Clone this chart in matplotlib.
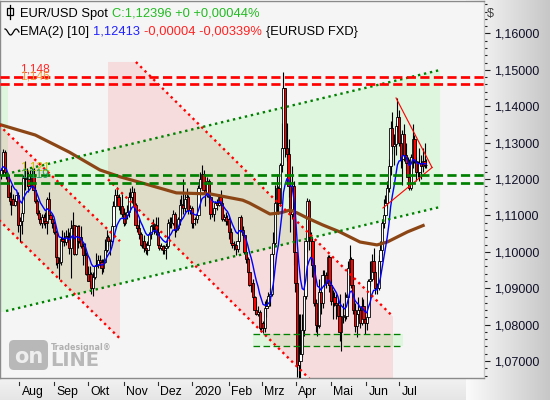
import numpy as np
import pandas as pd
import matplotlib
matplotlib.use("Agg")
import matplotlib.pyplot as plt
from matplotlib.patches import Polygon, Rectangle, FancyBboxPatch
from matplotlib.ticker import MultipleLocator, FuncFormatter

plt.rcParams['font.family'] = ['Liberation Sans', 'DejaVu Sans']

# ---------------- data (daily EUR/USD, 17 Jul 2019 .. 3 Jul 2020) ----------------
opens = [
    1.1210,1.1225,1.1275,1.1220,1.1210,1.1150,1.1140,1.1145,1.1130,1.1140,1.1155,
    1.1075,1.1085,1.1108,1.1203,1.1200,1.1200,1.1180,1.1200,1.1215,1.1170,1.1140,1.1108,1.1090,1.1078,1.1095,1.1085,1.1080,1.1145,1.1100,1.1090,1.1078,1.1055,
    1.0985,1.0968,1.0973,1.1035,1.1030,1.1027,1.1044,1.1042,1.1010,1.1065,1.1073,1.0995,1.1070,1.1030,1.1040,1.1017,1.0990,1.0990,1.0940,1.0920,1.0940,
    1.0900,1.0932,1.0960,1.0965,1.0978,1.0971,1.0955,1.0972,1.1005,1.1040,1.1030,1.1030,1.1070,1.1125,1.1155,1.1150,1.1125,1.1127,1.1105,1.1080,1.1100,1.1110,1.1150,
    1.1150,1.1165,1.1130,1.1075,1.1065,1.1050,1.1020,1.1030,1.1010,1.1005,1.1020,1.1050,1.1070,1.1075,1.1075,1.1055,1.1020,1.1010,1.1015,1.1005,1.1010,
    1.1015,1.1080,1.1080,1.1080,1.1103,1.1060,1.1065,1.1090,1.1130,1.1130,1.1120,1.1145,1.1150,1.1115,1.1120,1.1080,1.1090,1.1090,1.1100,1.1175,1.1200,
    1.1215,1.1170,1.1160,1.1195,1.1150,1.1105,1.1105,1.1120,1.1135,1.1130,1.1150,1.1135,1.1090,1.1095,1.1085,1.1090,1.1055,1.1025,1.1020,1.1020,1.1008,1.1030,
    1.1095,1.1060,1.1045,1.1000,1.0980,1.0945,1.0910,1.0915,1.0875,1.0840,1.0830,1.0835,1.0790,1.0805,1.0790,1.0845,1.0850,1.0880,1.0885,1.0995,
    1.1025,1.1135,1.1175,1.1135,1.1240,1.1285,1.1450,1.1285,1.1270,1.1180,1.1105,1.1180,1.1000,1.0915,1.0690,1.0700,1.0720,1.0785,1.0880,1.1030,1.1140,1.1040,
    1.1030,1.0965,1.0860,1.0800,1.0795,1.0890,1.0860,1.0935,1.0935,1.0915,1.0985,1.0910,1.0865,1.0875,1.0860,1.0855,1.0825,1.0780,1.0820,1.0825,1.0825,1.0875,
    1.0955,1.0980,1.0910,1.0840,1.0795,1.0830,1.0840,1.0805,1.0850,1.0815,1.0805,1.0820,1.0920,1.0925,1.0975,1.0945,1.0900,1.0900,1.0975,1.1005,1.1080,
    1.1100,1.1135,1.1175,1.1235,1.1340,1.1290,1.1295,1.1345,1.1370,1.1300,1.1255,1.1325,1.1265,1.1245,1.1205,1.1175,1.1260,1.1310,1.1250,1.1220,1.1220,1.1245,
    1.1235,1.1250,1.1238]
highs = [
    1.1230,1.1282,1.1280,1.1230,1.1215,1.1165,1.1185,1.1160,1.1150,1.1165,1.1165,
    1.1095,1.1115,1.1210,1.1250,1.1230,1.1225,1.1225,1.1230,1.1230,1.1190,1.1145,1.1115,1.1100,1.1105,1.1105,1.1110,1.1150,1.1165,1.1105,1.1095,1.1085,1.1060,
    1.0995,1.0985,1.1040,1.1060,1.1055,1.1060,1.1065,1.1055,1.1087,1.1109,1.1075,1.1075,1.1075,1.1075,1.1070,1.1025,1.1025,1.1000,1.0960,1.0960,1.0945,
    1.0945,1.0965,1.0998,1.0990,1.0990,1.0980,1.0980,1.1035,1.1060,1.1045,1.1035,1.1080,1.1140,1.1172,1.1179,1.1160,1.1145,1.1160,1.1120,1.1110,1.1130,1.1165,1.1175,
    1.1180,1.1175,1.1135,1.1090,1.1090,1.1055,1.1040,1.1045,1.1025,1.1030,1.1055,1.1075,1.1090,1.1080,1.1095,1.1095,1.1035,1.1025,1.1020,1.1020,1.1025,
    1.1090,1.1095,1.1095,1.1115,1.1110,1.1080,1.1095,1.1145,1.1155,1.1199,1.1160,1.1175,1.1155,1.1130,1.1125,1.1095,1.1095,1.1100,1.1185,1.1220,1.1239,
    1.1225,1.1175,1.1205,1.1200,1.1170,1.1115,1.1125,1.1140,1.1145,1.1160,1.1170,1.1145,1.1105,1.1110,1.1100,1.1095,1.1065,1.1035,1.1030,1.1030,1.1040,1.1095,
    1.1100,1.1070,1.1050,1.1005,1.0985,1.0955,1.0925,1.0925,1.0880,1.0865,1.0850,1.0840,1.0815,1.0810,1.0865,1.0870,1.0890,1.0900,1.1000,1.1055,
    1.1185,1.1215,1.1180,1.1245,1.1355,1.1495,1.1450,1.1355,1.1310,1.1200,1.1235,1.1195,1.1030,1.0955,1.0830,1.0830,1.0830,1.0890,1.1040,1.1147,1.1145,1.1055,
    1.1040,1.0970,1.0870,1.0835,1.0925,1.0900,1.0950,1.0950,1.0945,1.0990,1.0990,1.0925,1.0895,1.0890,1.0885,1.0870,1.0885,1.0825,1.0860,1.0890,1.0885,1.0975,
    1.1020,1.0985,1.0925,1.0860,1.0835,1.0875,1.0850,1.0875,1.0870,1.0830,1.0835,1.0925,1.0975,1.0995,1.1010,1.0960,1.0915,1.0990,1.1030,1.1090,1.1145,
    1.1155,1.1195,1.1255,1.1360,1.1385,1.1325,1.1355,1.1422,1.1390,1.1320,1.1335,1.1350,1.1300,1.1260,1.1255,1.1270,1.1350,1.1320,1.1260,1.1250,1.1285,1.1265,
    1.1285,1.1300,1.1255]
lows = [
    1.1200,1.1210,1.1215,1.1200,1.1150,1.1130,1.1100,1.1130,1.1125,1.1135,1.1055,
    1.1027,1.1050,1.1095,1.1170,1.1180,1.1165,1.1180,1.1190,1.1160,1.1135,1.1100,1.1085,1.1075,1.1065,1.1075,1.1065,1.1050,1.1090,1.1080,1.1065,1.1050,1.0965,
    1.0955,1.0926,1.0965,1.1015,1.1015,1.1020,1.1030,1.0995,1.0927,1.1055,1.0990,1.0990,1.1010,1.1025,1.1010,1.0965,1.0980,1.0935,1.0920,1.0905,1.0885,
    1.0879,1.0925,1.0940,1.0955,1.0960,1.0940,1.0945,1.0970,1.1000,1.1015,1.0990,1.1020,1.1060,1.1120,1.1140,1.1115,1.1105,1.1095,1.1070,1.1075,1.1090,1.1095,1.1130,
    1.1135,1.1120,1.1065,1.1055,1.1035,1.1015,1.1010,1.1000,1.0995,1.0990,1.1015,1.1035,1.1060,1.1050,1.1045,1.1015,1.1005,1.1005,1.0995,1.0995,1.0981,
    1.1010,1.1065,1.1065,1.1075,1.1040,1.1055,1.1060,1.1075,1.1105,1.1105,1.1110,1.1135,1.1105,1.1105,1.1065,1.1065,1.1075,1.1080,1.1095,1.1170,1.1195,
    1.1160,1.1125,1.1150,1.1135,1.1090,1.1095,1.1085,1.1110,1.1115,1.1125,1.1130,1.1085,1.1085,1.1075,1.1075,1.1035,1.1020,1.1010,1.1005,1.0992,1.1000,1.1025,
    1.1055,1.1040,1.0995,1.0970,1.0940,1.0905,1.0890,1.0870,1.0830,1.0827,1.0825,1.0785,1.0780,1.0778,1.0780,1.0820,1.0845,1.0850,1.0880,1.0955,
    1.1020,1.1110,1.1105,1.1125,1.1220,1.1285,1.1260,1.1250,1.1150,1.1055,1.1090,1.0965,1.0890,1.0655,1.0640,1.0636,1.0710,1.0770,1.0870,1.1000,1.1005,1.0965,
    1.0930,1.0850,1.0780,1.0770,1.0790,1.0830,1.0845,1.0915,1.0900,1.0910,1.0890,1.0855,1.0815,1.0850,1.0815,1.0820,1.0755,1.0727,1.0805,1.0810,1.0815,1.0860,
    1.0935,1.0900,1.0830,1.0780,1.0766,1.0815,1.0790,1.0800,1.0805,1.0775,1.0785,1.0815,1.0905,1.0920,1.0945,1.0885,1.0885,1.0895,1.0940,1.0990,1.1065,
    1.1090,1.1120,1.1165,1.1210,1.1270,1.1240,1.1265,1.1330,1.1290,1.1230,1.1185,1.1250,1.1225,1.1195,1.1170,1.1170,1.1230,1.1245,1.1195,1.1205,1.1195,1.1200,
    1.1220,1.1230,1.1230]
closes = [
    1.1225,1.1275,1.1220,1.1210,1.1150,1.1140,1.1145,1.1130,1.1140,1.1155,1.1075,
    1.1085,1.1108,1.1203,1.1200,1.1200,1.1180,1.1200,1.1215,1.1170,1.1140,1.1108,1.1090,1.1078,1.1095,1.1085,1.1080,1.1145,1.1100,1.1090,1.1078,1.1055,1.0985,
    1.0968,1.0973,1.1035,1.1030,1.1027,1.1044,1.1042,1.1010,1.1065,1.1073,1.0995,1.1070,1.1030,1.1040,1.1017,1.0990,1.0990,1.0940,1.0920,1.0940,1.0900,
    1.0932,1.0960,1.0965,1.0978,1.0971,1.0955,1.0972,1.1005,1.1040,1.1030,1.1030,1.1070,1.1125,1.1155,1.1150,1.1125,1.1127,1.1105,1.1080,1.1100,1.1110,1.1150,1.1150,
    1.1165,1.1130,1.1075,1.1065,1.1050,1.1020,1.1030,1.1010,1.1005,1.1020,1.1050,1.1070,1.1075,1.1075,1.1055,1.1020,1.1010,1.1015,1.1005,1.1010,1.1015,
    1.1080,1.1080,1.1080,1.1103,1.1060,1.1065,1.1090,1.1130,1.1130,1.1120,1.1145,1.1150,1.1115,1.1120,1.1080,1.1090,1.1090,1.1100,1.1175,1.1200,1.1215,
    1.1170,1.1160,1.1195,1.1150,1.1105,1.1105,1.1120,1.1135,1.1130,1.1150,1.1135,1.1090,1.1095,1.1085,1.1090,1.1055,1.1025,1.1020,1.1020,1.1008,1.1030,1.1095,
    1.1060,1.1045,1.1000,1.0980,1.0945,1.0910,1.0915,1.0875,1.0840,1.0830,1.0835,1.0790,1.0805,1.0790,1.0845,1.0850,1.0880,1.0885,1.0995,1.1025,
    1.1135,1.1175,1.1135,1.1240,1.1285,1.1450,1.1285,1.1270,1.1180,1.1105,1.1180,1.1000,1.0915,1.0690,1.0700,1.0720,1.0785,1.0880,1.1030,1.1140,1.1040,1.1030,
    1.0965,1.0860,1.0800,1.0795,1.0890,1.0860,1.0935,1.0935,1.0915,1.0985,1.0910,1.0865,1.0875,1.0860,1.0855,1.0825,1.0780,1.0820,1.0825,1.0825,1.0875,1.0955,
    1.0980,1.0910,1.0840,1.0795,1.0830,1.0840,1.0805,1.0850,1.0815,1.0805,1.0820,1.0920,1.0925,1.0975,1.0945,1.0900,1.0900,1.0975,1.1005,1.1080,1.1100,
    1.1135,1.1175,1.1235,1.1340,1.1290,1.1295,1.1345,1.1370,1.1300,1.1255,1.1325,1.1265,1.1245,1.1205,1.1175,1.1260,1.1310,1.1250,1.1220,1.1220,1.1245,1.1235,
    1.1250,1.1238,1.12396]

# long moving average (brown) at bar positions
brown_idx = [-1, 20, 40, 58, 70, 83, 103, 123, 142, 146, 158, 164, 170, 174, 180, 189, 199, 211, 221, 227, 239, 249]
brown_val = [1.1350, 1.1321, 1.1274, 1.1225, 1.1206, 1.1189, 1.1162, 1.1159, 1.1142, 1.1134, 1.1104,
             1.1107, 1.1115, 1.1107, 1.1093, 1.1074, 1.1055, 1.1027, 1.1019, 1.1027, 1.1055, 1.1074]

month_labels = ['Aug', 'Sep', 'Okt', 'Nov', 'Dez', '2020', 'Feb', 'Mrz', 'Apr', 'Mai', 'Jun', 'Jul']
month_pos = [10.6, 31.0, 51.0, 72.2, 92.2, 112.2, 134.0, 153.4, 173.4, 193.9, 214.5, 234.0]

red_levels = [1.148, 1.146]
red_level_labels = ['1,148', '1,146']
red_label_colors = ['#ff2a2a', '#f0a040']
green_levels = [1.121, 1.119]
green_level_labels = ['1,121', '1,119']
green_label_colors = ['#c8c000', '#20a060']

# drawn channels (bar index, price)
green_ch_x = [2.8, 258.1]
green_ch_up = [1.12139, 1.14997]
green_ch_lo = [1.08374, 1.11232]
left_ch_x = [-2.0, 69.8]
left_ch_up = [1.13513, 1.10293]
left_ch_lo = [1.10903, 1.07616]
big_ch_x = [62.8, 79.2, 230.4]          # left edge, start of upper line, right edge
big_ch_up = [1.15217, 1.15217, 1.08220]
big_ch_lo = [1.11991, 1.04236]
strip_x = [-2.0, 3.9]
strip_v = [1.0835, 1.14557]
box_x = [148.1, 236.3]
box_v = [1.07412, 1.07742]
pennant_top_x = [232.2, 253.4]
pennant_top_v = [1.14228, 1.12317]
pennant_bot_x = [224.5, 253.4]
pennant_bot_v = [1.11205, 1.12317]

# ---------------- figure ----------------
W, H = 550, 400
fig = plt.figure(figsize=(5.5, 4.0), dpi=100)
fig.patch.set_facecolor('white')

bg = fig.add_axes([0, 0, 1, 1], zorder=-5)
bg.set_xlim(0, W); bg.set_ylim(H, 0); bg.axis('off')
g = np.linspace(0, 1, 200)[None, :, None]
right_grad = (1 - g) * np.array([0.985, 0.985, 0.985]) + g * np.array([0.78, 0.78, 0.78])
bg.imshow(right_grad, extent=(466, 550, 400, 0), aspect='auto', interpolation='bilinear')
gv = np.linspace(0, 1, 50)[:, None, None] * np.ones((1, 2, 1))
band = (1 - gv) * np.array([0.95, 0.95, 0.95]) + gv * np.array([0.90, 0.90, 0.90])
bg.imshow(band, extent=(0, 466, 400, 378), aspect='auto', interpolation='bilinear')

ax = fig.add_axes([0, 22 / H, 484 / W, 377 / H], zorder=1)
ax.set_facecolor('#f5f5f5')
n = len(closes)
ax.set_xlim(-0.76, (484 - 1.3) / 1.7)
ax.set_ylim(1.06533, 1.16893)

PINK = '#f6dcdc'
GREEN = '#def5de'
BEIGE = '#dfdcc8'

def para(xs, up, lo):
    return np.array([[xs[0], up[0]], [xs[1], up[1]], [xs[1], lo[1]], [xs[0], lo[0]]])

big_poly = np.array([[big_ch_x[0], big_ch_up[0]], [big_ch_x[1], big_ch_up[1]], [big_ch_x[2], big_ch_up[2]],
                     [big_ch_x[2], big_ch_lo[1]], [big_ch_x[0], big_ch_lo[0]]])
pink_polys = [para(left_ch_x, left_ch_up, left_ch_lo), big_poly]
green_polys = [para(green_ch_x, green_ch_up, green_ch_lo),
               np.array([[strip_x[0], strip_v[1]], [strip_x[1], strip_v[1]], [strip_x[1], strip_v[0]], [strip_x[0], strip_v[0]]]),
               np.array([[box_x[0], box_v[1]], [box_x[1], box_v[1]], [box_x[1], box_v[0]], [box_x[0], box_v[0]]])]

pink_patches = []
for pv in pink_polys:
    p = Polygon(pv, closed=True, facecolor=PINK, edgecolor='none', zorder=1)
    ax.add_patch(p)
    pink_patches.append(p)
for gvv in green_polys:
    ax.add_patch(Polygon(gvv, closed=True, facecolor=GREEN, edgecolor='none', zorder=1.1))
for gvv in green_polys:
    for pp in pink_patches:
        q = Polygon(gvv, closed=True, facecolor=BEIGE, edgecolor='none', zorder=1.2)
        ax.add_patch(q)
        q.set_clip_path(pp)

# candles
idx = np.arange(n)
o = np.array(opens); h = np.array(highs); l = np.array(lows); c = np.array(closes)
up = c >= o
ax.vlines(idx, l, h, color='#000000', lw=0.8, zorder=3)
bb = np.minimum(o, c)
bh = np.maximum(np.abs(c - o), 0.00012)
ax.bar(idx[up], bh[up], bottom=bb[up], width=1.3, color='white', edgecolor='#000000', linewidth=0.6, zorder=4)
ax.bar(idx[~up], bh[~up], bottom=bb[~up], width=1.3, color='#ff0000', edgecolor='#000000', linewidth=0.6, zorder=4)

# indicators
ema = pd.Series(closes).ewm(span=10, adjust=False).mean()
ax.plot(brown_idx, brown_val, color='#8c4616', lw=2.3, zorder=5, solid_capstyle='butt')
ax.plot(idx, ema, color='#0000ff', lw=1.0, zorder=6)

# channel lines
dot = (0, (1, 1.6))
ax.plot(left_ch_x, left_ch_up, color='#ff0000', lw=1.7, ls=dot, zorder=7)
ax.plot(left_ch_x, left_ch_lo, color='#ff0000', lw=1.7, ls=dot, zorder=7)
ax.plot(big_ch_x[1:], big_ch_up[1:], color='#ff0000', lw=1.7, ls=dot, zorder=7)
ax.plot([big_ch_x[0], big_ch_x[2]], big_ch_lo, color='#ff0000', lw=1.7, ls=dot, zorder=7)
ax.plot(green_ch_x, green_ch_up, color='#008000', lw=1.7, ls=dot, zorder=7)
ax.plot(green_ch_x, green_ch_lo, color='#008000', lw=1.7, ls=dot, zorder=7)

# pennant
ax.plot(pennant_top_x, pennant_top_v, color='#ff0000', lw=0.8, zorder=7)
ax.plot(pennant_bot_x, pennant_bot_v, color='#ff0000', lw=0.8, zorder=7)

# support box lines
for v in box_v:
    ax.plot(box_x, [v, v], color='#008000', lw=0.95, ls=(0, (5, 2.6)), zorder=7)

# horizontal levels
for v in red_levels:
    ax.axhline(v, color='#ff0000', lw=1.95, ls=(0, (3.4, 1.6)), zorder=8)
for v in green_levels:
    ax.axhline(v, color='#008000', lw=1.95, ls=(0, (3.4, 1.6)), zorder=8)
ytr = ax.get_yaxis_transform()
for v, t, col in list(zip(red_levels, red_level_labels, red_label_colors)) + list(zip(green_levels, green_level_labels, green_label_colors)):
    ax.annotate(t, xy=(20 / 484, v), xycoords=ytr, xytext=(0, 3.4), textcoords='offset points',
                va='baseline', ha='left', fontsize=8.6, color=col, zorder=9)

# axes styling
for s in ax.spines.values():
    s.set_color('#8a8a8a'); s.set_linewidth(1.0)
ax.spines['right'].set_color('#c8c8c8')
ax.set_xticks([])
ax.yaxis.tick_right()
ax.yaxis.set_major_locator(MultipleLocator(0.01))
ax.yaxis.set_minor_locator(MultipleLocator(0.002))
ax.yaxis.set_major_formatter(FuncFormatter(lambda v, p: f"{v:.5f}".replace('.', ',')))
ax.tick_params(axis='y', which='major', length=4, width=0.8, color='#202020', pad=3,
               labelsize=9, labelcolor='#101028', direction='out')
ax.tick_params(axis='y', which='minor', length=2, width=0.8, color='#202020', direction='out')

xtr = ax.get_xaxis_transform()
for p, lab in zip(month_pos, month_labels):
    ax.plot([p, p], [-4 / 377, -7 / 377], transform=xtr, color='#303030', lw=0.8, clip_on=False)
    ax.text(p + 1.4, -14 / 377, lab, transform=xtr, ha='left', va='center', fontsize=8.8, color='#000000')

# ---------------- overlay (legend, watermark) in pixel coords ----------------
ov = fig.add_axes([0, 0, 1, 1], zorder=10)
ov.set_xlim(0, W); ov.set_ylim(H, 0); ov.axis('off'); ov.patch.set_alpha(0)

def chain(parts, x, y):
    prev = None
    for txt, col in parts:
        if prev is None:
            prev = ov.text(x, y, txt, color=col, fontsize=9.3, va='baseline', ha='left')
        else:
            prev = ov.annotate(txt, xy=(1, 0), xycoords=prev, xytext=(3.8, 0), textcoords='offset pixels',
                               color=col, fontsize=9.3, va='bottom', ha='left')

chain([("EUR/USD Spot", '#000000'), ("C:1,12396 +0 +0,00044%", '#22bb22')], 20.5, 17)
chain([("EMA(2) [10]", '#000000'), ("1,12413", '#2222ff'), ("-0,00004 -0,00339%", '#ff2222'),
       ("{EURUSD FXD}", '#000000')], 20.5, 34.5)

# legend icons
ov.plot([10, 10], [5, 19], color='black', lw=0.9)
ov.add_patch(Rectangle((7, 8), 6, 7, facecolor='white', edgecolor='black', lw=0.9))
wx = np.linspace(5, 19, 40)
ov.plot(wx, 32 + 3 * np.sin((wx - 5) / 14 * 2.5 * np.pi - 0.5 * np.pi), color='black', lw=0.9)

ov.text(487, 17, "$", fontsize=9, color='#404040', va='baseline', ha='left')

# watermark
ov.add_patch(FancyBboxPatch((9, 340), 39, 30, boxstyle="round,pad=0,rounding_size=5",
                            facecolor='#b8b8b8', edgecolor='none'))
ov.text(28.5, 357, "on", fontsize=15, fontweight='bold', color='#eeeeee', ha='center', va='center',
        family='DejaVu Sans')
ov.text(50, 366, "LINE", fontsize=14, fontweight='bold', color='#b8b8b8', ha='left', va='baseline',
        family='DejaVu Sans')
ov.text(51, 350, "Tradesignal\u00ae", fontsize=5.8, fontweight='bold', color='#b0b0b0', ha='left',
        va='baseline', family='DejaVu Sans')

fig.savefig('out.png', dpi=100)
